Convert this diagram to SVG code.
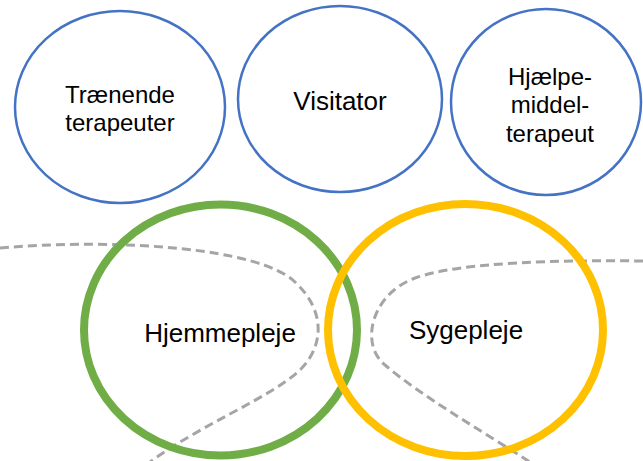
<svg xmlns="http://www.w3.org/2000/svg" width="643" height="461" viewBox="0 0 643 461">
<style>
.blue{fill:#fff;stroke:#4472C4;stroke-width:2.5}
.t{font-family:"Liberation Sans",Arial,sans-serif;fill:#000;text-anchor:middle}
.dash{fill:none;stroke:#A5A5A5;stroke-width:3;stroke-dasharray:9,5}
</style>
<rect width="643" height="461" fill="#fff"/>
<g id="connectors">
<path class="dash" d="M0,248 C120,238 260,248 295,282 C325,310 325,345 300,370 C270,398 200,425 150,462"/>
<path class="dash" d="M643,261 C560,260 460,262 415,278 C370,295 360,345 385,365 C420,395 480,430 530,462"/>
</g>
<g id="traenende">
<ellipse class="blue" cx="120" cy="107" rx="105" ry="96"/>
<text class="t" x="120" y="103" font-size="24">Trænende</text>
<text class="t" x="120" y="131" font-size="24">terapeuter</text>
</g>
<g id="visitator">
<ellipse class="blue" cx="340" cy="99" rx="102" ry="93"/>
<text class="t" x="340" y="110" font-size="26">Visitator</text>
</g>
<g id="hjaelpemiddel">
<ellipse class="blue" cx="546" cy="102" rx="95" ry="93"/>
<text class="t" x="550" y="85" font-size="24">Hjælpe-</text>
<text class="t" x="550" y="113" font-size="24">middel-</text>
<text class="t" x="550" y="142" font-size="24">terapeut</text>
</g>
<g id="hjemmepleje">
<ellipse cx="220.5" cy="330" rx="136.5" ry="125.5" fill="none" stroke="#70AD47" stroke-width="8"/>
<text class="t" x="220" y="342" font-size="26">Hjemmepleje</text>
</g>
<g id="sygepleje">
<ellipse cx="465.5" cy="330" rx="137.5" ry="126" fill="none" stroke="#FFC000" stroke-width="8"/>
<text class="t" x="466" y="339" font-size="26">Sygepleje</text>
</g>
</svg>
